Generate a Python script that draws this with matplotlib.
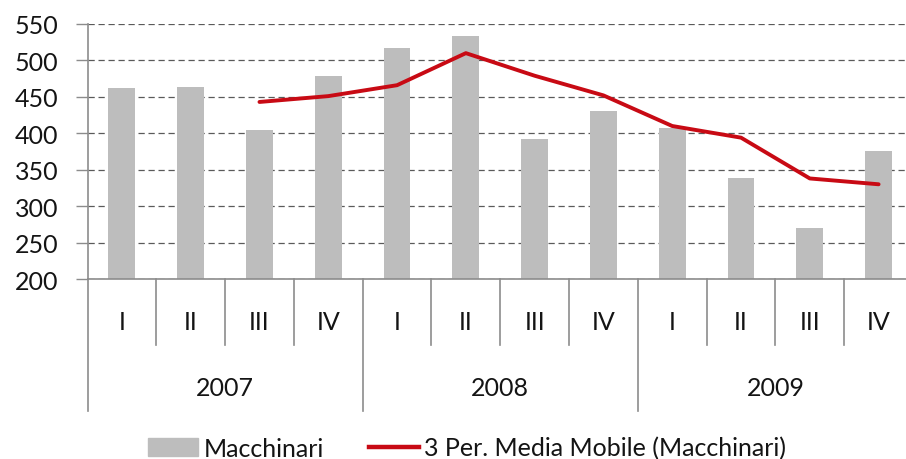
import matplotlib.pyplot as plt
from matplotlib.lines import Line2D
from matplotlib.patches import Patch
import matplotlib.transforms as mtransforms

plt.rcParams['font.family'] = ['Lato', 'DejaVu Sans']

# dati
trimestri = ['I', 'II', 'III', 'IV', 'I', 'II', 'III', 'IV', 'I', 'II', 'III', 'IV']
anni = ['2007', '2008', '2009']
macchinari = [462, 464, 405, 478, 517, 533, 392, 431, 407, 339, 270, 376]
media_mobile = [None, None, 443, 451, 466, 510, 479, 452, 410, 394, 338, 330]

grigio = '#bdbdbd'
rosso = '#c80a14'
testo = '#141414'
asse = '#8c8c8c'

fig = plt.figure(figsize=(9.06, 4.6), dpi=100)
ax = fig.add_axes([87.5 / 906, 1 - 280 / 460, 825.5 / 906, 255 / 460])

x = list(range(len(macchinari)))
ax.bar(x, macchinari, width=0.39, color=grigio, zorder=2)
xm = [i for i, v in zip(x, media_mobile) if v is not None]
ym = [v for v in media_mobile if v is not None]
ax.plot(xm, ym, color=rosso, lw=2.8, zorder=3, solid_capstyle='round')

ax.set_ylim(200, 550)
ax.set_xlim(-0.5, len(x) - 0.5)
ax.set_yticks(range(200, 551, 50))
ax.yaxis.grid(True, linestyle=(0, (5, 3)), color='#5a5a5a', lw=0.9, zorder=1)
ax.set_axisbelow(True)
ax.tick_params(axis='y', length=9, width=1, color=asse, labelsize=18,
               labelcolor=testo, pad=12)
ax.tick_params(axis='x', length=0, labelbottom=False)
for s in ['top', 'right']:
    ax.spines[s].set_visible(False)
ax.spines['left'].set_color(asse)
ax.spines['bottom'].set_color(asse)
ax.spines['left'].set_linewidth(1.2)
ax.spines['bottom'].set_linewidth(1.2)

# asse categorie a due livelli
trans = mtransforms.blended_transform_factory(ax.transData, ax.transAxes)
for i, q in enumerate(trimestri):
    ax.text(i, -0.165, q, transform=trans, ha='center', va='center',
            fontsize=18, color=testo)
for k, a in enumerate(anni):
    ax.text(4 * k + 1.5, -0.424, a, transform=trans, ha='center', va='center',
            fontsize=18, color=testo)
for b in range(len(x) + 1):
    bx = b - 0.5
    fondo = -0.518 if b % 4 == 0 else -0.259
    ax.add_line(Line2D([bx, bx], [0, fondo], transform=trans, color=asse,
                       lw=1.2, clip_on=False))

handles = [Patch(color=grigio), Line2D([], [], color=rosso, lw=3.2)]
fig.legend(handles, ['Macchinari', '3 Per. Media Mobile (Macchinari)'],
           loc='center', bbox_to_anchor=(467 / 906, 1 - 449 / 460), ncol=2,
           frameon=False, fontsize=18, handlelength=2.0, handletextpad=0.2,
           columnspacing=1.8, labelcolor=testo)

fig.savefig('out.png', dpi=100)
